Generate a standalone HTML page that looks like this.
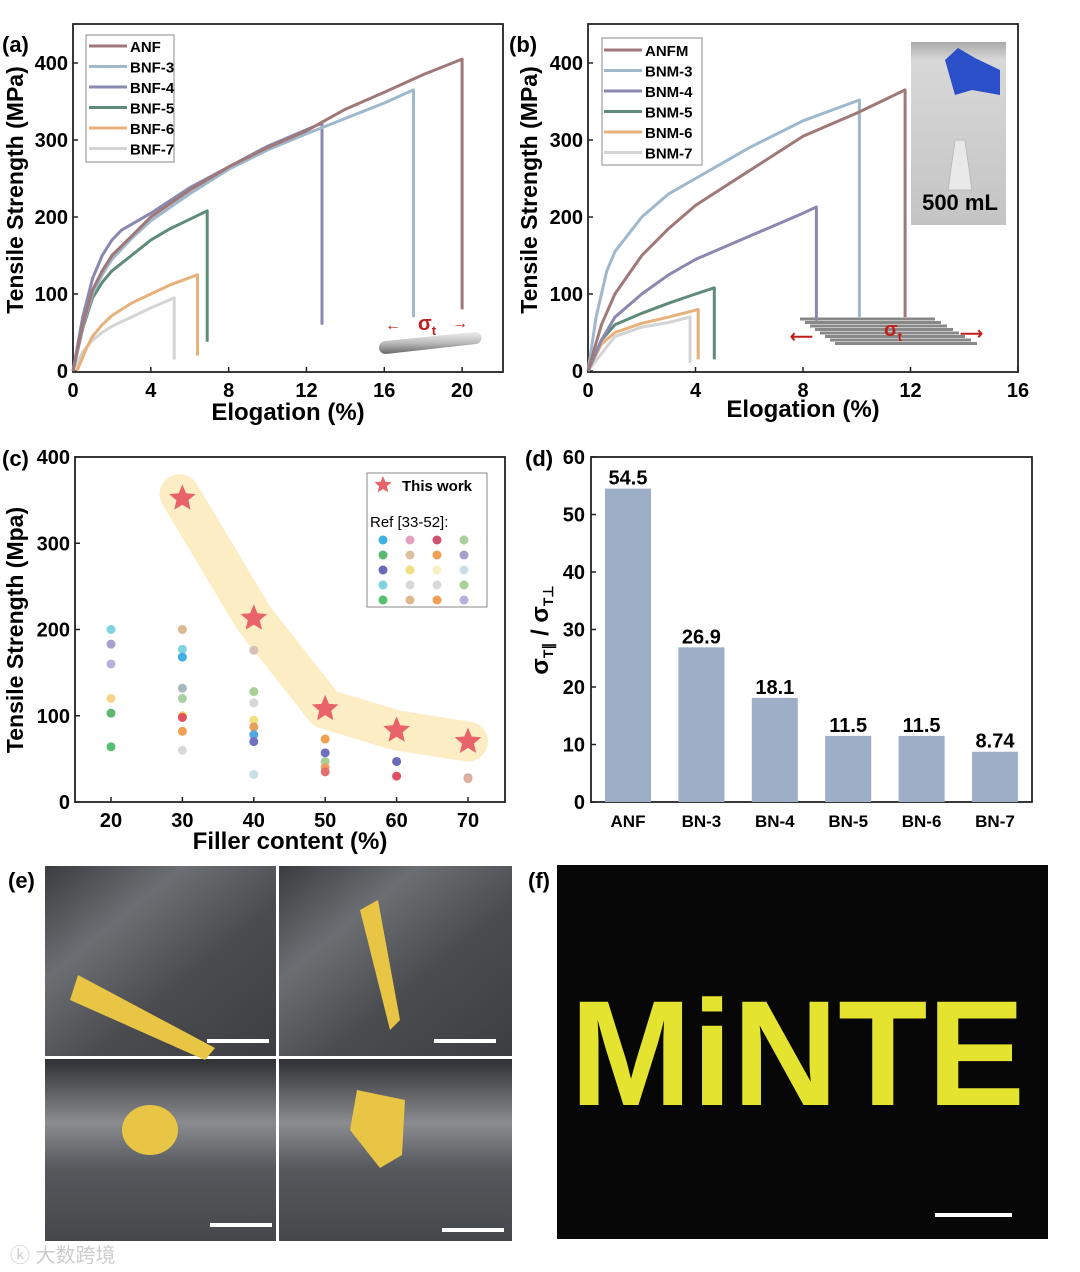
<!DOCTYPE html>
<html><head><meta charset="utf-8"><style>
html,body{margin:0;padding:0;background:#fff;}
svg{display:block;font-family:"Liberation Sans",Arial,sans-serif;}
</style></head><body>
<svg id="fig" width="1080" height="1272" viewBox="0 0 1080 1272" xmlns="http://www.w3.org/2000/svg">
<defs>
<linearGradient id="rod" x1="0" y1="0" x2="0" y2="1"><stop offset="0" stop-color="#eee"/><stop offset="0.5" stop-color="#bbb"/><stop offset="1" stop-color="#666"/></linearGradient>
<linearGradient id="ph1" x1="0" y1="0" x2="1" y2="1"><stop offset="0" stop-color="#3a3c40"/><stop offset="0.3" stop-color="#6b6e72"/><stop offset="0.6" stop-color="#4a4c50"/><stop offset="1" stop-color="#3c3e42"/></linearGradient>
<linearGradient id="ph2" x1="0" y1="0" x2="0" y2="1"><stop offset="0" stop-color="#2e3034"/><stop offset="0.35" stop-color="#8a8c90"/><stop offset="0.6" stop-color="#55585c"/><stop offset="1" stop-color="#45474b"/></linearGradient>
<linearGradient id="inset" x1="0" y1="0" x2="0" y2="1"><stop offset="0" stop-color="#aaa"/><stop offset="0.1" stop-color="#d8d8d8"/><stop offset="1" stop-color="#c4c4c4"/></linearGradient>
</defs>
<g id="pa"></g>
<g id="pb"></g>
<g id="pc"></g>
<g id="pd"></g>

<g>
<text x="8" y="888" font-size="22" font-weight="bold">(e)</text>
<rect x="45" y="866" width="231" height="190" fill="url(#ph1)"/>
<rect x="279" y="866" width="233" height="190" fill="url(#ph1)"/>
<rect x="45" y="1059" width="231" height="182" fill="url(#ph2)"/>
<rect x="279" y="1059" width="233" height="182" fill="url(#ph2)"/>
<polygon points="70,1000 78,975 215,1048 205,1060" fill="#e8c545"/>
<polygon points="360,910 378,900 400,1020 390,1030" fill="#e8c545"/>
<ellipse cx="150" cy="1130" rx="28" ry="25" fill="#e8c545"/>
<polygon points="350,1130 357,1090 405,1100 402,1155 380,1168" fill="#e8c545"/>
<rect x="207" y="1039" width="62" height="4" fill="#fff"/>
<rect x="434" y="1039" width="62" height="4" fill="#fff"/>
<rect x="210" y="1223" width="62" height="4" fill="#fff"/>
<rect x="442" y="1228" width="62" height="4" fill="#fff"/>
<text x="10" y="1262" font-size="20" fill="#ccc" font-family="'Liberation Sans','Noto Sans CJK SC',sans-serif">ⓚ 大数跨境</text>
</g>
<g>
<text x="528" y="888" font-size="22" font-weight="bold">(f)</text>
<rect x="557" y="865" width="491" height="374" fill="#070707"/>
<text x="0" y="0" font-size="120" font-weight="bold" fill="#e3e330" text-anchor="start" textLength="455" lengthAdjust="spacingAndGlyphs" transform="translate(570,1105) scale(1,1.25)">MiNTE</text>
<rect x="935" y="1213" width="77" height="4" fill="#fff"/>
</g>
</svg>

<script>
var NS='http://www.w3.org/2000/svg';
function mk(p,tag,at){var e=document.createElementNS(NS,tag);for(var k in at)e.setAttribute(k,at[k]);p.appendChild(e);return e;}
function tx(p,x,y,s,size,anchor,extra){var e=mk(p,'text',{x:x,y:y,'font-size':size,'font-weight':'bold','text-anchor':anchor||'middle'});if(extra)for(var k in extra)e.setAttribute(k,extra[k]);e.textContent=s;return e;}

var aNames=['ANF','BNF-3','BNF-4','BNF-5','BNF-6','BNF-7'];
var aColors=['#a07878','#9fb8cc','#8a88b0','#5f8c78','#e8b07a','#d4d4d4'];
var aX=[[0,0.5,1,1.5,2,3,4,6,8,10,12,14,16,18,20,20],[0,0.5,1,1.5,2,3,4,6,8,10,12,14,16,17.5,17.5],[0,0.5,1,1.5,2,2.5,4,6,8,10,12.8,12.8],[0,0.5,1,1.5,2,3,4,5,6,6.9,6.9],[0.2,0.7,1,1.5,2,3,4,5,6.4,6.4],[0,0.5,1,1.5,2,3,4,5.2,5.2]];
var aY=[[0,60,105,130,150,175,200,235,265,290,312,340,362,385,405,80],[0,58,100,125,145,172,195,230,262,287,308,328,348,365,70],[0,70,120,150,170,183,205,238,265,292,322,60],[0,55,95,115,130,150,170,185,197,208,38],[0,30,45,60,72,88,100,112,125,20],[0,25,40,50,58,70,82,95,15]];
var aXTicks=[0,4,8,12,16,20], aYTicks=[0,100,200,300,400];

var bNames=['ANFM','BNM-3','BNM-4','BNM-5','BNM-6','BNM-7'];
var bX=[[0,0.5,1,2,3,4,6,8,10,11.8,11.8],[0,0.3,0.7,1,2,3,4,6,8,10.1,10.1],[0,0.5,1,2,3,4,6,8,8.5,8.5],[0,0.5,1,2,3,4,4.7,4.7],[0,0.5,1,2,3,4.1,4.1],[0,1,2,3,3.8,3.8]];
var bY=[[0,60,100,150,185,215,260,305,335,365,70],[0,70,130,155,200,230,250,290,325,352,70],[0,40,70,100,125,145,175,205,213,65],[0,40,60,75,88,100,108,15],[0,35,50,62,70,80,15],[0,45,57,63,70,10]];
var bXTicks=[0,4,8,12,16], bYTicks=[0,100,200,300,400];

var cWorkX=[30,40,50,60,70];
var cWorkY=[352,213,108,83,70];
var cRefX=[20,20,20,20,20,20,30,30,30,30,30,30,30,30,30,40,40,40,40,40,40,40,40,50,50,50,50,50,60,60,70,70];
var cRefY=[200,183,160,120,103,64,200,177,168,132,120,100,98,82,60,176,128,115,95,87,78,70,32,73,57,47,40,35,47,30,28,27];
var cRefColor=['#7fd3df','#a6a0cc','#b7b0dd','#f7d38a','#5cb870','#57c070','#e0b890','#7fd3df','#3fb0e0','#a8b8c0','#a8d0a0','#f0d060','#e05060','#f0a050','#d8d8d8','#d8c0b8','#a8d098','#d8d8d8','#f0e080','#e8a060','#50a8e0','#7070c0','#c8e0e8','#f0a050','#7070c0','#a8d098','#f0a060','#e07070','#6a6ab8','#e05060','#c0a0a0','#e0b0a0'];
var cXTicks=[20,30,40,50,60,70], cYTicks=[0,100,200,300,400];

var dCats=['ANF','BN-3','BN-4','BN-5','BN-6','BN-7'];
var dVals=[54.5,26.9,18.1,11.5,11.5,8.74];
var dLabels=['54.5','26.9','18.1','11.5','11.5','8.74'];
var dYTicks=[0,10,20,30,40,50,60];

function linePanel(g,o){
  var sx=function(v){return o.x0+(v-o.xmin)*(o.x1-o.x0)/(o.xmax-o.xmin);};
  var sy=function(v){return o.y0-(v-o.ymin)*(o.y0-o.y1)/(o.ymax-o.ymin);};
  var f=mk(g,'rect',{x:o.fx,y:o.fy,width:o.fw,height:o.fh,fill:'none',stroke:'#222','stroke-width':1.8});
  
  
  o.xt.forEach(function(t){
    var l=mk(g,'line',{x1:sx(t),x2:sx(t),y1:o.fy+o.fh,y2:o.fy+o.fh-5,stroke:'#222','stroke-width':1.5});
    
    
    var e=tx(g,sx(t),o.fy+o.fh+25,String(t),20);
    
    
  });
  o.yt.forEach(function(t){
    var l=mk(g,'line',{x1:o.fx,x2:o.fx+5,y1:sy(t),y2:sy(t),stroke:'#222','stroke-width':1.5});
    
    
    var e=tx(g,o.fx-5,sy(t)+7,String(t),20,'end');
    
    
  });
  return {sx:sx,sy:sy};
}

(function(){
  var g=document.getElementById('pa');
  var s=linePanel(g,{x0:73,x1:501,xmin:0,xmax:22,y0:371,y1:63,ymin:0,ymax:400,fx:73,fy:24,fw:430,fh:348,xt:aXTicks,yt:aYTicks});
  for(var i=aX.length-1;i>=0;i--){
    var d=aX[i].map(function(x,j){return (j?'L':'M')+s.sx(x).toFixed(1)+','+s.sy(aY[i][j]).toFixed(1);}).join('');
    var p=mk(g,'path',{d:d,fill:'none',stroke:aColors[i],'stroke-width':3,'stroke-linejoin':'round'});
    
    
  }
  var lg=mk(g,'rect',{x:86,y:35,width:88,height:127,fill:'#fff',stroke:'#888','stroke-width':1});
  
  
  aNames.forEach(function(n,i){
    var l=mk(g,'line',{x1:89,x2:127,y1:46+i*20.5,y2:46+i*20.5,stroke:aColors[i],'stroke-width':3});
    
    
    var e=tx(g,130,52+i*20.5,n,15,'start');
    
    
  });
  var t=tx(g,0,0,'Tensile Strength (MPa)',23,'middle',{transform:'translate(23,190) rotate(-90)'});
  
  
  var xt=tx(g,288,420,'Elogation (%)',24);
  
  
  var pl=tx(g,2,52,'(a)',22,'start');
  
  
  var rod=mk(g,'path',{d:'M385,341 L475,332 A6,6 0 0 1 476,344 L386,354 A6,6 0 0 1 385,341Z',fill:'url(#rod)'});
  
  
  var sg=mk(g,'text',{x:418,y:330,'font-size':20,'font-weight':'bold',fill:'#c0201c'});
  
  
  sg.innerHTML='σ<tspan font-size="13" dy="5">t</tspan>';
  var a1=mk(g,'text',{x:385,y:330,'font-size':16,fill:'#c0201c','font-weight':'bold'});
  
  
  a1.textContent='←';
  var a2=mk(g,'text',{x:452,y:328,'font-size':16,fill:'#c0201c','font-weight':'bold'});
  
  
  a2.textContent='→';
})();

(function(){
  var g=document.getElementById('pb');
  var s=linePanel(g,{x0:588,x1:1018,xmin:0,xmax:16,y0:371,y1:63,ymin:0,ymax:400,fx:588,fy:24,fw:430,fh:348,xt:bXTicks,yt:bYTicks});
  var ip=mk(g,'rect',{x:911,y:42,width:95,height:183,fill:'url(#inset)'});
  
  
  var gl=mk(g,'path',{d:'M945,60 L958,48 L975,58 L1000,70 L1000,95 L972,90 L955,95Z',fill:'#2a4fc8'});
  
  
  var bt=mk(g,'path',{d:'M955,140 L965,140 L972,190 L948,190Z',fill:'#e8e8e8',stroke:'#bbb'});
  
  
  var it=tx(g,960,210,'500 mL',22);
  
  
  for(var k=0;k<8;k++){
    var r=mk(g,'line',{x1:800+k*5,y1:319+k*3.5,x2:935+k*6,y2:319+k*3.5,stroke:'#888','stroke-width':3});
    
    
  }
  for(var i=bX.length-1;i>=0;i--){
    var d=bX[i].map(function(x,j){return (j?'L':'M')+s.sx(x).toFixed(1)+','+s.sy(bY[i][j]).toFixed(1);}).join('');
    var p=mk(g,'path',{d:d,fill:'none',stroke:aColors[i],'stroke-width':3,'stroke-linejoin':'round'});
    
    
  }
  var sg=mk(g,'text',{x:884,y:336,'font-size':20,'font-weight':'bold',fill:'#c0201c'});
  
  
  sg.innerHTML='σ<tspan font-size="13" dy="5">t</tspan>';
  var a1=mk(g,'text',{x:790,y:342,'font-size':16,fill:'#c0201c','font-weight':'bold'});
  
  
  a1.textContent='⟵';
  var a2=mk(g,'text',{x:960,y:339,'font-size':16,fill:'#c0201c','font-weight':'bold'});
  
  
  a2.textContent='⟶';
  var lg=mk(g,'rect',{x:602,y:38,width:100,height:127,fill:'#fff',stroke:'#888','stroke-width':1});
  
  
  bNames.forEach(function(n,i){
    var l=mk(g,'line',{x1:604,x2:642,y1:50+i*20.5,y2:50+i*20.5,stroke:aColors[i],'stroke-width':3});
    
    
    var e=tx(g,645,56+i*20.5,n,15,'start');
    
    
  });
  var t=tx(g,0,0,'Tensile Strength (MPa)',23,'middle',{transform:'translate(537,190) rotate(-90)'});
  
  
  var xt=tx(g,803,417,'Elogation (%)',24);
  
  
  var pl=tx(g,509,52,'(b)',22,'start');
  
  
})();

function star(cx,cy,R){var r=R*0.45,pts=[];for(var i=0;i<10;i++){var a=-Math.PI/2+i*Math.PI/5,rr=i%2?r:R;pts.push((cx+rr*Math.cos(a)).toFixed(1)+','+(cy+rr*Math.sin(a)).toFixed(1));}return pts.join(' ');}

(function(){
  var g=document.getElementById('pc');
  var s=linePanel(g,{x0:111,x1:468,xmin:20,xmax:70,y0:802,y1:457,ymin:0,ymax:400,fx:75,fy:457,fw:430,fh:345,xt:cXTicks,yt:cYTicks});
  var d='M'+s.sx(cWorkX[0]-0.4)+','+s.sy(cWorkY[0]+5);
  for(var i=1;i<cWorkX.length;i++) d+=' L'+s.sx(cWorkX[i])+','+s.sy(cWorkY[i]);
  var b=mk(g,'path',{d:d,fill:'none',stroke:'#fdedc4','stroke-width':40,'stroke-linecap':'round','stroke-linejoin':'round'});
  
  
  cRefX.forEach(function(x,i){
    var c=mk(g,'circle',{cx:s.sx(x),cy:s.sy(cRefY[i]),r:4.5,fill:cRefColor[i]});
    
    
  });
  cWorkX.forEach(function(x,i){
    var p=mk(g,'polygon',{points:star(s.sx(x),s.sy(cWorkY[i]),14),fill:'#e8646a'});
    
    
  });
  var lg=mk(g,'rect',{x:367,y:473,width:120,height:134,fill:'#fff',stroke:'#888','stroke-width':1});
  
  
  var ls=mk(g,'polygon',{points:star(383,485,9),fill:'#e8646a'});
  
  
  var l1=tx(g,402,491,'This work',15,'start');
  
  
  var l2=mk(g,'text',{x:370,y:527,'font-size':15});
  
  
  l2.textContent='Ref [33-52]:';
  var lc=['#3fb0e0','#e0a0c0','#d05070','#a8d0a0','#5cb870','#d8c0a0','#f0a050','#a6a0cc','#6a6ab8','#f0e080','#f8f0c0','#c8e0e8','#7fd3df','#d8d8d8','#d8d8d8','#a8d098','#57c070','#e0b890','#f0a050','#b7b0dd'];
  for(var k=0;k<20;k++){
    var c=mk(g,'circle',{cx:383+(k%4)*27,cy:540+Math.floor(k/4)*15,r:4.5,fill:lc[k]});
    
    
  }
  var t=tx(g,0,0,'Tensile Strength (Mpa)',23,'middle',{transform:'translate(23,630) rotate(-90)'});
  
  
  var xt=tx(g,290,849,'Filler content (%)',24);
  
  
  var pl=tx(g,2,466,'(c)',22,'start');
  
  
})();

(function(){
  var g=document.getElementById('pd');
  var x0=591,x1=1032,y0=802,y1=457;
  var sy=function(v){return y0-v*(y0-y1)/60;};
  var step=73.4, first=628, bw=46;
  var sx=function(i){return first+i*step;};
  var f=mk(g,'rect',{x:x0,y:y1,width:x1-x0,height:y0-y1,fill:'none',stroke:'#222','stroke-width':1.8});
  
  
  dYTicks.forEach(function(t){
    var l=mk(g,'line',{x1:x0,x2:x0+5,y1:sy(t),y2:sy(t),stroke:'#222','stroke-width':1.5});
    
    
    var e=tx(g,x0-6,sy(t)+7,String(t),20,'end');
    
    
  });
  dCats.forEach(function(c,i){
    var r=mk(g,'rect',{x:sx(i)-bw/2,y:sy(dVals[i]),width:bw,height:y0-sy(dVals[i]),fill:'#9cafc6'});
    
    
    var v=tx(g,sx(i),sy(dVals[i])-4,dLabels[i],20);
    
    
    var l=tx(g,sx(i),827,c,17);
    
    
  });
  var t=mk(g,'text',{transform:'translate(548,630) rotate(-90)','font-size':24,'font-weight':'bold','text-anchor':'middle'});
  
  
  t.innerHTML='σ<tspan font-size="14" dy="5">T∥</tspan><tspan dy="-5">  /  σ</tspan><tspan font-size="14" dy="5">T⊥</tspan>';
  var pl=tx(g,525,466,'(d)',22,'start');
  
  
})();
</script>
</body></html>
